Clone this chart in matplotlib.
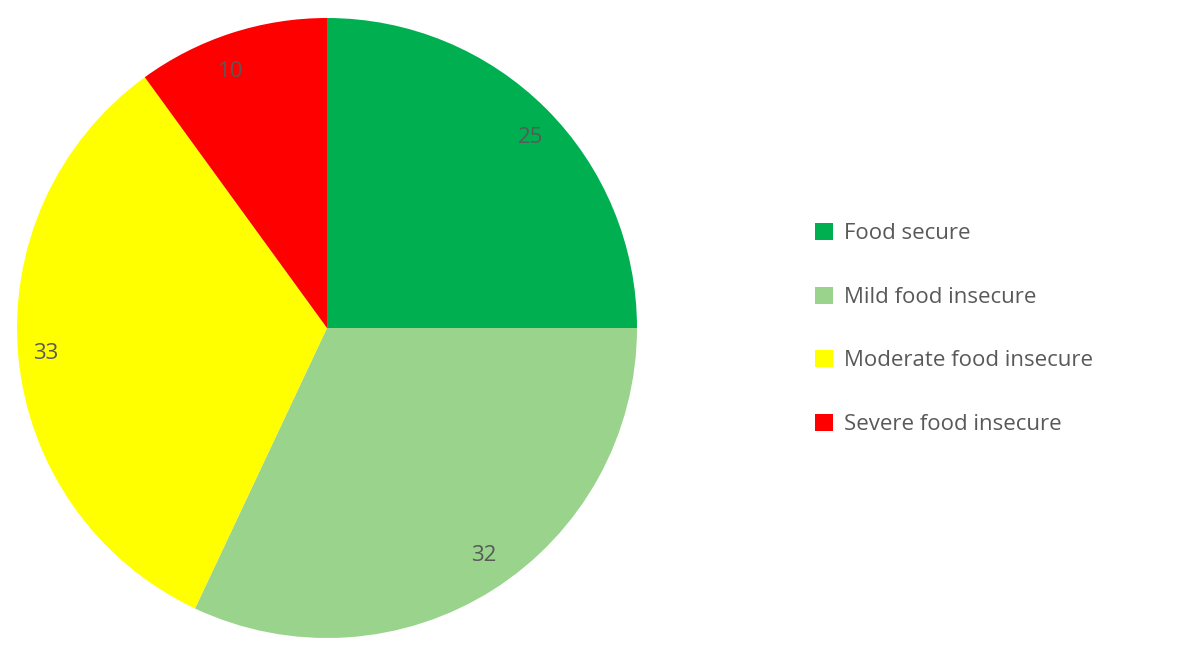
import matplotlib.pyplot as plt
from matplotlib.patches import Patch

categories = ["Food secure", "Mild food insecure", "Moderate food insecure", "Severe food insecure"]
values = [25, 32, 33, 10]
colors = ["#00B050", "#99D38C", "#FFFF00", "#FF0000"]

plt.rcParams['font.family'] = ['Open Sans', 'DejaVu Sans']

fig = plt.figure(figsize=(11.78, 6.54), dpi=100)
ax = fig.add_axes([17 / 1178, 16 / 654, 620 / 1178, 620 / 654])
ax.pie(values, colors=colors, startangle=90, counterclock=False,
       labels=[str(v) for v in values], labeldistance=0.87,
       textprops=dict(color="#595959", fontsize=16),
       wedgeprops=dict(linewidth=0))
ax.set_xlim(-1, 1)
ax.set_ylim(-1, 1)
ax.set_aspect('equal')

handles = [Patch(facecolor=c, edgecolor='none') for c in colors]
fig.legend(handles, categories, loc='center left', bbox_to_anchor=(795 / 1178, 1 - 329 / 654),
           frameon=False, fontsize=16, labelcolor="#595959",
           handlelength=0.8, handleheight=0.8, handletextpad=0.5, labelspacing=1.9)

fig.savefig("out.png", dpi=100)
